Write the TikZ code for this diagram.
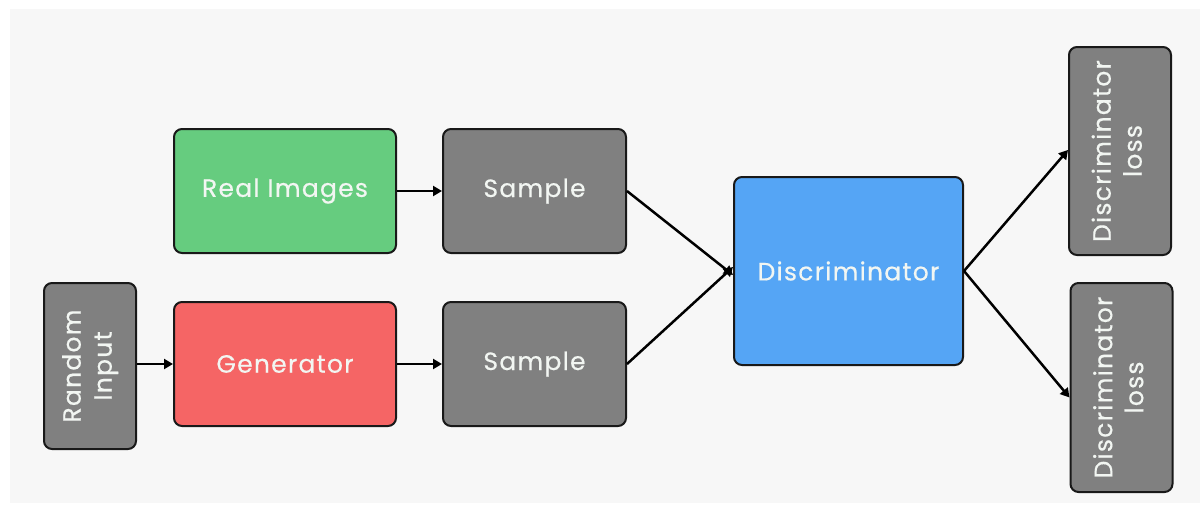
\documentclass[tikz,border=0pt]{standalone}
\usepackage{fontspec}
\setmainfont{Poppins}[LetterSpace=5,FakeBold=0.5]
\usetikzlibrary{arrows.meta}
\definecolor{bgc}{HTML}{F7F7F7}
\definecolor{greenc}{HTML}{66CC7F}
\definecolor{redc}{HTML}{F56565}
\definecolor{bluec}{HTML}{55A5F5}
\definecolor{greyc}{HTML}{808080}
\definecolor{txt}{HTML}{F2F6F2}
\tikzset{
  box/.style={draw=black!90, line width=2pt, rounded corners=8pt, inner sep=0pt,
    text=txt, font=\fontsize{25}{31}\selectfont, align=center},
  arr/.style={line width=2.5pt, -{Triangle[length=9pt,width=10pt]}},
}
\begin{document}
\begin{tikzpicture}[x=1pt,y=-1pt]
\useasboundingbox (0,0) rectangle (1200,506);
\fill[white] (0,0) rectangle (1200,506);
\fill[bgc] (10,9) rectangle (1200,503);
% boxes
\node[box, fill=greenc, minimum width=222pt, minimum height=124pt] (real) at (285,191) {Real Images};
\node[box, fill=redc, minimum width=222pt, minimum height=124pt] (gen) at (285,364) {Generator};
\node[box, fill=greyc, minimum width=92pt, minimum height=166pt] (rand) at (90,366) {\rotatebox{90}{\begin{tabular}{@{}c@{}}Random\\Input\end{tabular}}};
\node[box, fill=greyc, minimum width=183pt, minimum height=124pt] (s1) at (534.5,191) {Sample};
\node[box, fill=greyc, minimum width=183pt, minimum height=124pt] (s2) at (534.5,364) {Sample};
\node[box, fill=bluec, minimum width=229pt, minimum height=188pt] (disc) at (848.5,271) {Discriminator};
\node[box, fill=greyc, minimum width=102pt, minimum height=208pt] (l1) at (1120,151) {\rotatebox{90}{\begin{tabular}{@{}c@{}}Discriminator\\loss\end{tabular}}};
\node[box, fill=greyc, minimum width=102pt, minimum height=209pt] (l2) at (1121.5,387.5) {\rotatebox{90}{\begin{tabular}{@{}c@{}}Discriminator\\loss\end{tabular}}};
% connectors
\draw[arr] (rand.east |- gen) -- (gen.west);
\draw[arr] (real.east) -- (s1.west);
\draw[arr] (gen.east) -- (s2.west);
\draw[arr] (s1.east) -- ([yshift=-4pt]disc.west);
\draw[arr] (s2.east) -- ([yshift=4pt]disc.west);
\draw[arr] (disc.east) -- ([yshift=1pt]l1.west);
\draw[arr] (disc.east) -- ([yshift=-10pt]l2.west);
\end{tikzpicture}
\end{document}
